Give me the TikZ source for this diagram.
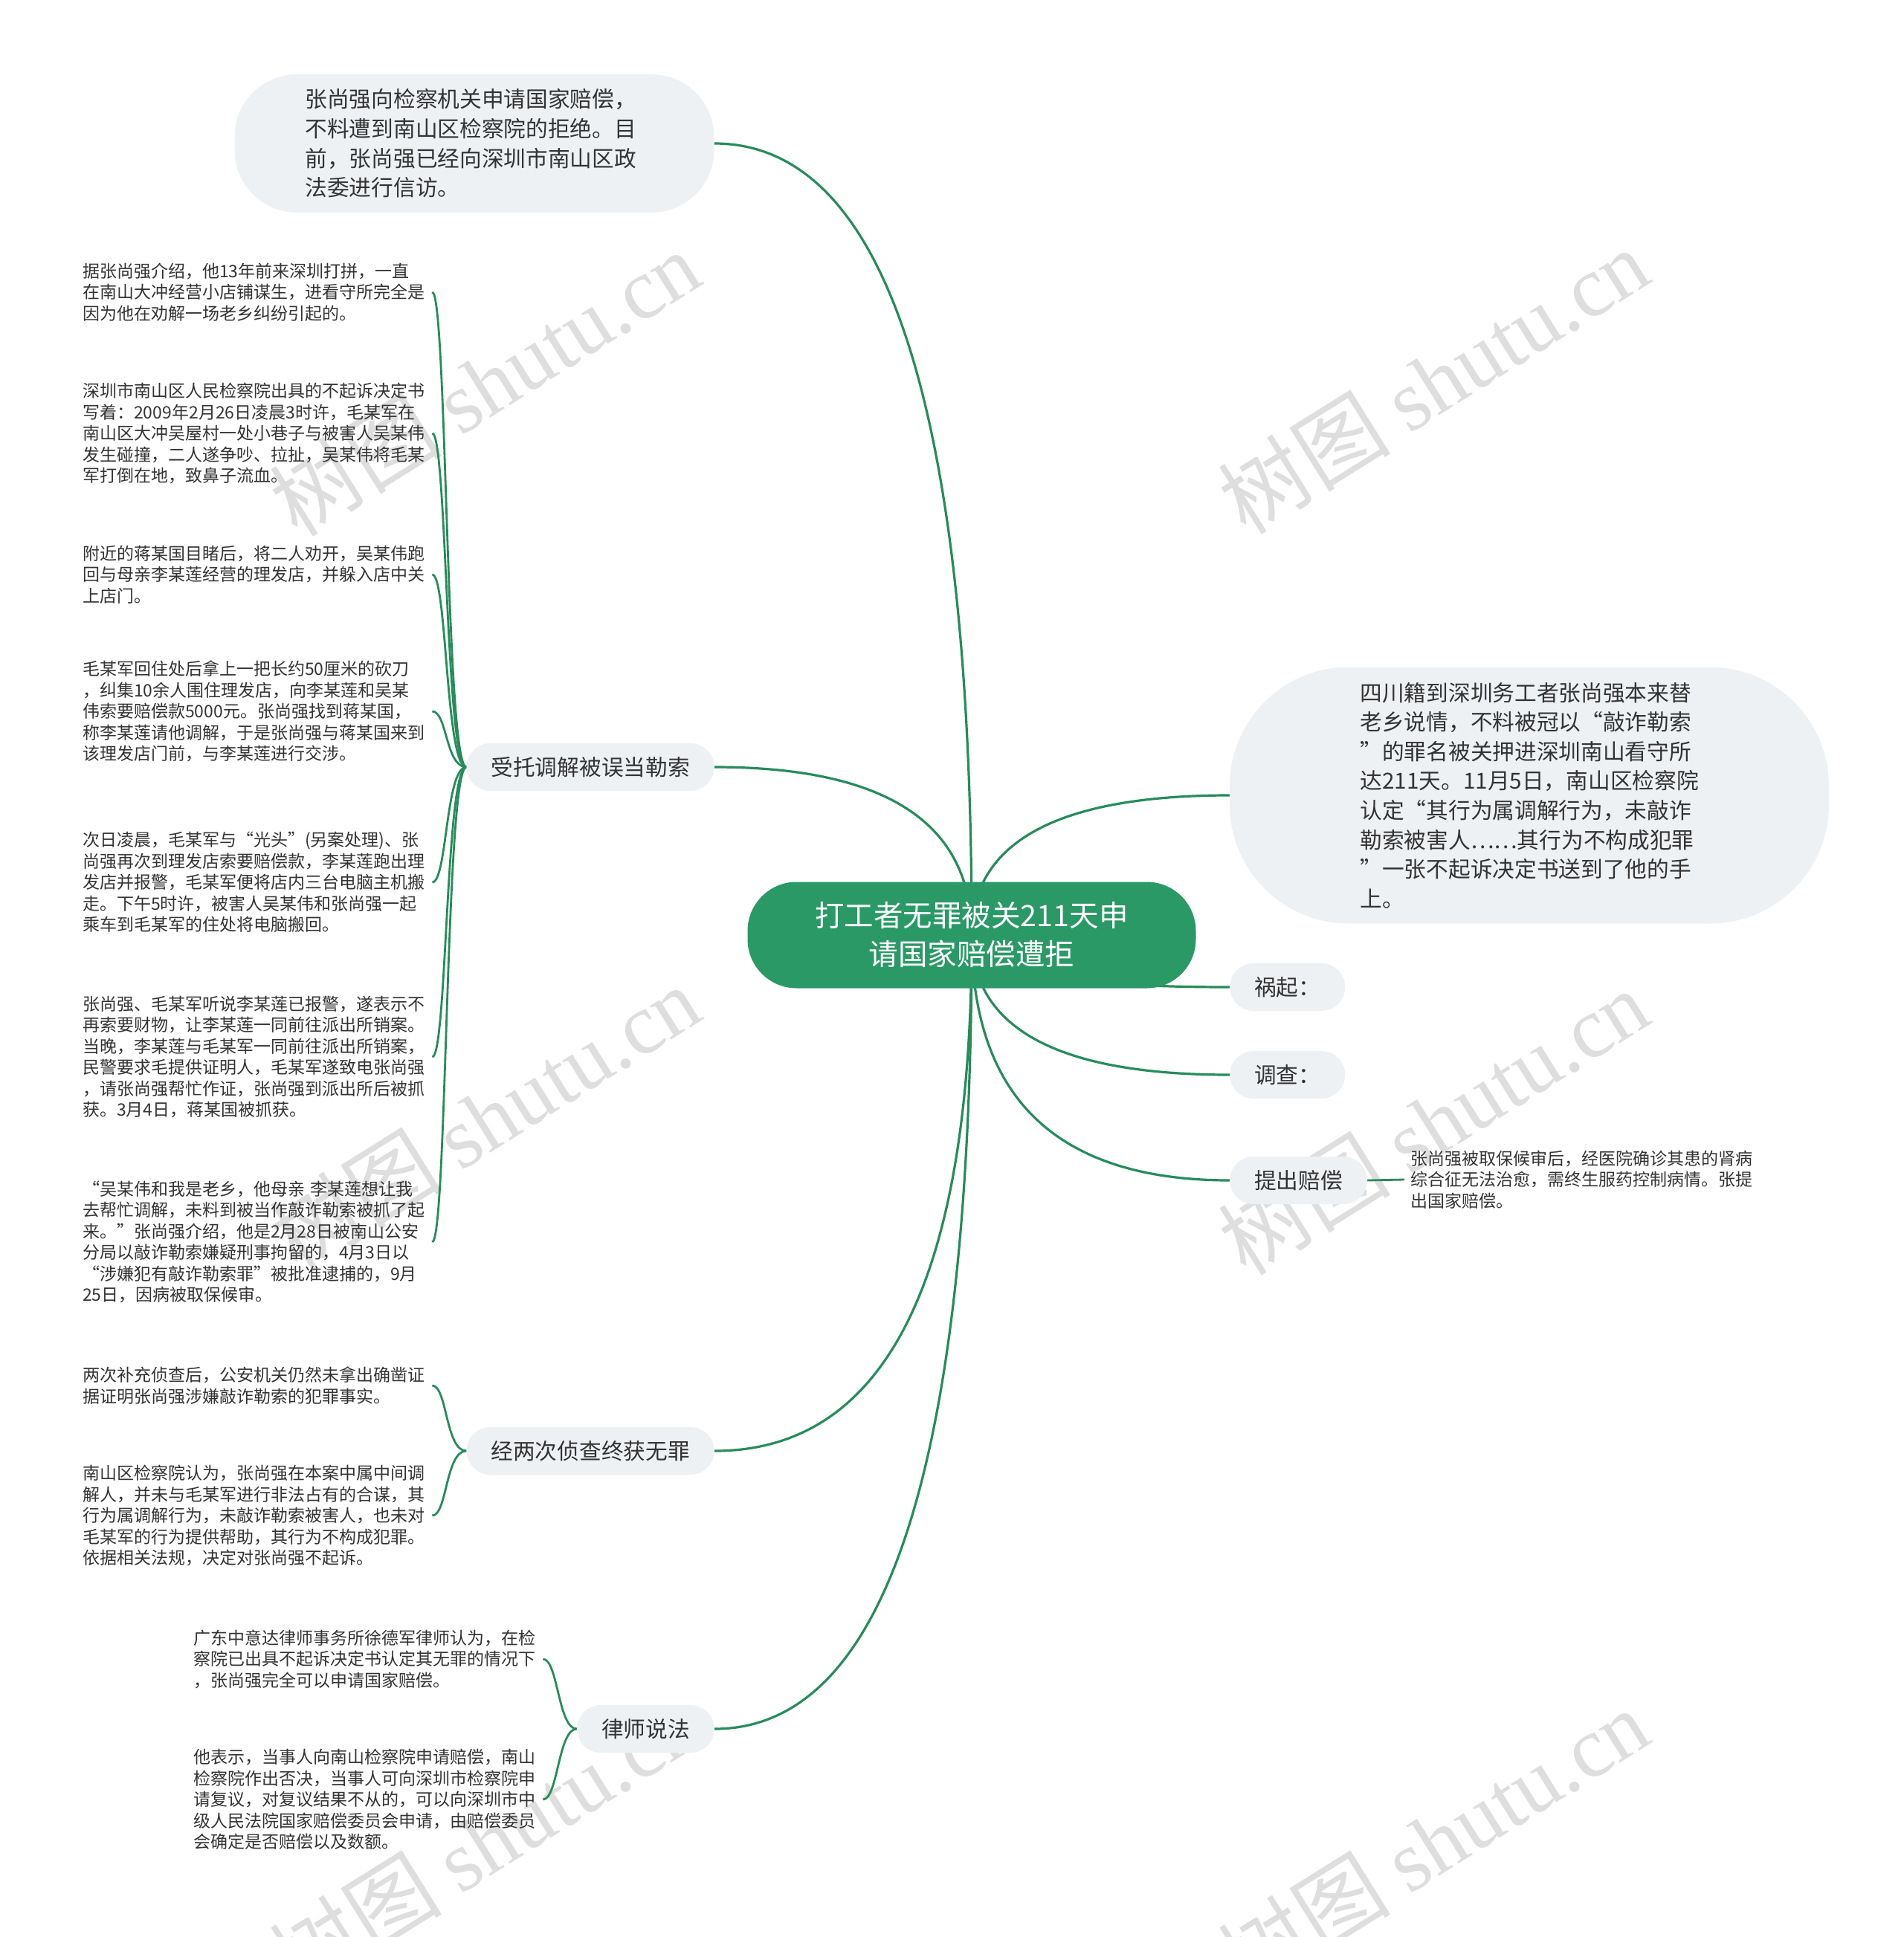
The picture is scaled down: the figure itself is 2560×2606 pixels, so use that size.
\documentclass[tikz,border=0pt]{standalone}
\usepackage{fontspec}
\setmainfont{Noto Sans CJK SC}
\newfontfamily\wmserif{Liberation Serif}
\usetikzlibrary{calc}
\definecolor{maingreen}{RGB}{42,153,102}
\definecolor{linegreen}{RGB}{38,140,92}
\definecolor{bubble}{RGB}{238,241,244}
\definecolor{txt}{RGB}{51,51,51}
\definecolor{wm}{RGB}{222,222,222}
\pgfdeclarelayer{wmlayer}
\pgfdeclarelayer{linelayer}
\pgfsetlayers{wmlayer,linelayer,main}
\newcommand\mainlink[2]{\draw[conn] (#1) .. controls ($(#1)!0.667!(#1 |- #2)$) and ($(#2)!0.667!(#1 |- #2)$) .. (#2);}
\newcommand\leaflink[3]{\draw[sub] (#1.west) .. controls +(-#3,0) and +(20,0) .. (#2.east);}
\begin{document}
\begin{tikzpicture}[x=1pt,y=-1pt,
  central/.style={fill=maingreen, text=white, rounded corners=66pt, minimum width=603pt, minimum height=143pt, align=center, font=\fontsize{39.5}{52}\selectfont, inner sep=0pt},
  topic/.style={fill=bubble, text=txt, rounded corners=32pt, minimum height=64pt, inner xsep=33pt, inner ysep=0pt, font=\fontsize{29.7}{40}\selectfont},
  bigbubble/.style={fill=bubble, text=txt, align=left, inner sep=0pt, font=\fontsize{29.7}{39.6}\selectfont},
  leaf/.style={text=txt, align=left, inner xsep=8pt, inner ysep=2pt, text width=462pt, font=\fontsize{23}{28.5}\selectfont},
  conn/.style={draw=linegreen, line width=3.2pt},
  sub/.style={draw=linegreen, line width=2.8pt},
  wmark/.style={text=wm, rotate=32, inner sep=0pt, font=\fontsize{116}{120}\selectfont}
]
\useasboundingbox (0,0) rectangle (2560,2606);

% background and watermarks
\begin{pgfonlayer}{wmlayer}
\fill[white] (0,0) rectangle (2560,2606);
\node[wmark] (w1) at (652,515) {树图 {\wmserif shutu.cn}};
\node[wmark] (w2) at (1928,512) {树图 {\wmserif shutu.cn}};
\node[wmark] (w3) at (652,1504) {树图 {\wmserif shutu.cn}};
\node[wmark] (w4) at (1928,1509) {树图 {\wmserif shutu.cn}};
\node[wmark] (w5) at (652,2477) {树图 {\wmserif shutu.cn}};
\node[wmark] (w6) at (1928,2477) {树图 {\wmserif shutu.cn}};
\end{pgfonlayer}

% central
\node[central] (c) at (1307,1258) {打工者无罪被关211天申\\请国家赔偿遭拒};

% big bubbles
\node[bigbubble, rounded corners=84pt, minimum width=645pt, minimum height=186pt, text width=455pt] (tb) at (638,193)
{张尚强向检察机关申请国家赔偿，\\不料遭到南山区检察院的拒绝。目\\前，张尚强已经向深圳市南山区政\\法委进行信访。};
\node[bigbubble, rounded corners=160pt, minimum width=806pt, minimum height=345pt, text width=455pt] (rb) at (2057,1070)
{四川籍到深圳务工者张尚强本来替\\老乡说情，不料被冠以“敲诈勒索\\”的罪名被关押进深圳南山看守所\\达211天。11月5日，南山区检察院\\认定“其行为属调解行为，未敲诈\\勒索被害人……其行为不构成犯罪\\”一张不起诉决定书送到了他的手\\上。};

% topics
\node[topic, anchor=east] (t1) at (961,1032) {受托调解被误当勒索};
\node[topic, anchor=east] (t2) at (961,1952) {经两次侦查终获无罪};
\node[topic, anchor=east] (t3) at (961,2326) {律师说法};
\node[topic, anchor=west] (r1) at (1654,1328) {祸起：};
\node[topic, anchor=west] (r2) at (1654,1446) {调查：};
\node[topic, anchor=west] (r3) at (1654,1588) {提出赔偿};

% leaves
\node[leaf, anchor=west] (l1) at (103,393) {据张尚强介绍，他13年前来深圳打拼，一直\\在南山大冲经营小店铺谋生，进看守所完全是\\因为他在劝解一场老乡纠纷引起的。};
\node[leaf, anchor=west] (l2) at (103,583) {深圳市南山区人民检察院出具的不起诉决定书\\写着：2009年2月26日凌晨3时许，毛某军在\\南山区大冲吴屋村一处小巷子与被害人吴某伟\\发生碰撞，二人遂争吵、拉扯，吴某伟将毛某\\军打倒在地，致鼻子流血。};
\node[leaf, anchor=west] (l3) at (103,773) {附近的蒋某国目睹后，将二人劝开，吴某伟跑\\回与母亲李某莲经营的理发店，并躲入店中关\\上店门。};
\node[leaf, anchor=west] (l4) at (103,957) {毛某军回住处后拿上一把长约50厘米的砍刀\\，纠集10余人围住理发店，向李某莲和吴某\\伟索要赔偿款5000元。张尚强找到蒋某国，\\称李某莲请他调解，于是张尚强与蒋某国来到\\该理发店门前，与李某莲进行交涉。};
\node[leaf, anchor=west] (l5) at (103,1187) {次日凌晨，毛某军与“光头”(另案处理)、张\\尚强再次到理发店索要赔偿款，李某莲跑出理\\发店并报警，毛某军便将店内三台电脑主机搬\\走。下午5时许，被害人吴某伟和张尚强一起\\乘车到毛某军的住处将电脑搬回。};
\node[leaf, anchor=west] (l6) at (103,1422) {张尚强、毛某军听说李某莲已报警，遂表示不\\再索要财物，让李某莲一同前往派出所销案。\\当晚，李某莲与毛某军一同前往派出所销案，\\民警要求毛提供证明人，毛某军遂致电张尚强\\，请张尚强帮忙作证，张尚强到派出所后被抓\\获。3月4日，蒋某国被抓获。};
\node[leaf, anchor=west] (l7) at (103,1671) {“吴某伟和我是老乡，他母亲 李某莲想让我\\去帮忙调解，未料到被当作敲诈勒索被抓了起\\来。”张尚强介绍，他是2月28日被南山公安\\分局以敲诈勒索嫌疑刑事拘留的，4月3日以\\“涉嫌犯有敲诈勒索罪”被批准逮捕的，9月\\25日，因病被取保候审。};
\node[leaf, anchor=west] (l8) at (103,1864) {两次补充侦查后，公安机关仍然未拿出确凿证\\据证明张尚强涉嫌敲诈勒索的犯罪事实。};
\node[leaf, anchor=west] (l9) at (103,2039) {南山区检察院认为，张尚强在本案中属中间调\\解人，并未与毛某军进行非法占有的合谋，其\\行为属调解行为，未敲诈勒索被害人，也未对\\毛某军的行为提供帮助，其行为不构成犯罪。\\依据相关法规，决定对张尚强不起诉。};
\node[leaf, anchor=west] (l10) at (252,2232) {广东中意达律师事务所徐德军律师认为，在检\\察院已出具不起诉决定书认定其无罪的情况下\\，张尚强完全可以申请国家赔偿。};
\node[leaf, anchor=west] (l11) at (252,2421) {他表示，当事人向南山检察院申请赔偿，南山\\检察院作出否决，当事人可向深圳市检察院申\\请复议，对复议结果不从的，可以向深圳市中\\级人民法院国家赔偿委员会申请，由赔偿委员\\会确定是否赔偿以及数额。};
\node[leaf, anchor=west] (rl) at (1889,1587) {张尚强被取保候审后，经医院确诊其患的肾病\\综合征无法治愈，需终生服药控制病情。张提\\出国家赔偿。};

% connectors
\begin{pgfonlayer}{linelayer}
\mainlink{c.center}{tb.east}
\mainlink{c.center}{rb.west}
\mainlink{c.center}{r1.west}
\mainlink{c.center}{r2.west}
\mainlink{c.center}{r3.west}
\mainlink{c.center}{t1.east}
\mainlink{c.center}{t2.east}
\mainlink{c.center}{t3.east}
\leaflink{t1}{l1}{28}
\leaflink{t1}{l2}{28}
\leaflink{t1}{l3}{28}
\leaflink{t1}{l4}{28}
\leaflink{t1}{l5}{28}
\leaflink{t1}{l6}{28}
\leaflink{t1}{l7}{28}
\leaflink{t2}{l8}{28}
\leaflink{t2}{l9}{28}
\leaflink{t3}{l10}{25}
\leaflink{t3}{l11}{25}
\draw[sub] (r3.east) -- (rl.west);
\end{pgfonlayer}
\end{tikzpicture}
\end{document}
